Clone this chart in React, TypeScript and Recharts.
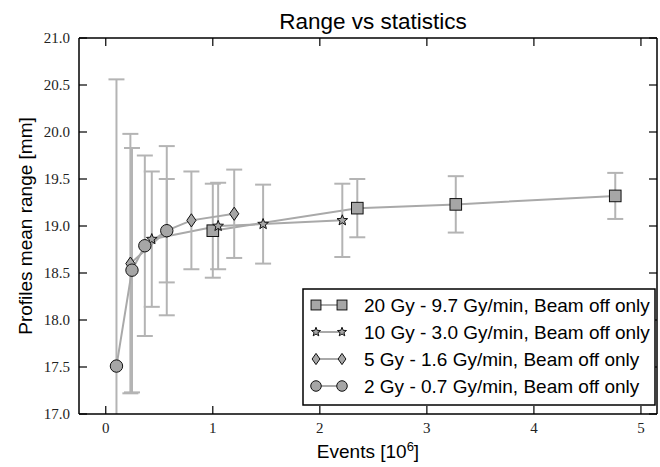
import React from 'react';
import { LineChart, Line, XAxis, YAxis, ErrorBar, Legend } from 'recharts';

// values
const sqX = [1.0, 2.35, 3.27, 4.76];
const sqY = [18.95, 19.19, 19.23, 19.32];
const sqErr = [0.5, 0.31, 0.3, 0.245];

const starX = [0.43, 1.05, 1.47, 2.21];
const starY = [18.86, 19.0, 19.02, 19.06];
const starErr = [0.72, 0.46, 0.42, 0.39];

const diaX = [0.23, 0.57, 0.8, 1.2];
const diaY = [18.6, 18.95, 19.06, 19.13];
const diaErr = [1.38, 0.55, 0.52, 0.47];

const circX = [0.1, 0.245, 0.365, 0.57];
const circY = [17.51, 18.53, 18.79, 18.95];
const circErr = [3.05, 1.3, 0.96, 0.9];

const xTicks = [0, 1, 2, 3, 4, 5];
const yTicks = [17, 17.5, 18, 18.5, 19, 19.5, 20, 20.5, 21];

const labels = [
  '20 Gy - 9.7 Gy/min, Beam off only',
  '10 Gy - 3.0 Gy/min, Beam off only',
  '5 Gy - 1.6 Gy/min, Beam off only',
  '2 Gy - 0.7 Gy/min, Beam off only',
];

type Kind = 'square' | 'star' | 'diamond' | 'circle';

const toRows = (xs: number[], ys: number[], es: number[]) =>
  xs.map((x, i) => ({ x, y: ys[i], err: es[i] }));

const series: { kind: Kind; name: string; data: { x: number; y: number; err: number }[] }[] = [
  { kind: 'square', name: labels[0], data: toRows(sqX, sqY, sqErr) },
  { kind: 'star', name: labels[1], data: toRows(starX, starY, starErr) },
  { kind: 'diamond', name: labels[2], data: toRows(diaX, diaY, diaErr) },
  { kind: 'circle', name: labels[3], data: toRows(circX, circY, circErr) },
];

const W = 660;
const H = 467;
// plot box inside the svg
const LEFT = 79;
const TOP = 38;
const RIGHT_GAP = 3;
const BOTTOM_H = 53;

const MARK_FILL = '#a6a6a6';
const LINE_GREY = '#a9a9a9';
const ERR_GREY = '#b4b4b4';
const SANS = '"Liberation Sans", Arial, sans-serif';
const SERIF = '"Liberation Serif", "DejaVu Serif", serif';

const Marker = ({ kind, cx, cy, s = 1 }: { kind: Kind; cx: number; cy: number; s?: number }) => {
  const common = { fill: MARK_FILL, stroke: '#111', strokeWidth: 1 };
  if (kind === 'circle') return <circle cx={cx} cy={cy} r={6.2 * s} {...common} />;
  if (kind === 'square') {
    const h = 5.8 * s;
    return <rect x={cx - h} y={cy - h} width={2 * h} height={2 * h} {...common} />;
  }
  if (kind === 'diamond') {
    const w = 4.6 * s, h = 6.6 * s;
    return <polygon points={`${cx},${cy - h} ${cx + w},${cy} ${cx},${cy + h} ${cx - w},${cy}`} {...common} />;
  }
  // star
  const pts: string[] = [];
  for (let i = 0; i < 10; i++) {
    const r = i % 2 === 0 ? 5.6 * s : 2.4 * s;
    const a = -Math.PI / 2 + (i * Math.PI) / 5;
    pts.push(`${cx + r * Math.cos(a)},${cy + r * Math.sin(a)}`);
  }
  return <polygon points={pts.join(' ')} {...common} />;
};

const BottomTick = (p: any) => (
  <g>
    <line x1={p.x} x2={p.x} y1={p.y} y2={p.y - 8} stroke="#000" strokeWidth={1.2} />
    <text x={p.x} y={p.y + 19} textAnchor="middle" fontFamily={SERIF} fontSize={15} fill="#222">
      {p.payload.value}
    </text>
  </g>
);

const LeftTick = (p: any) => (
  <g>
    <line x1={p.x} x2={p.x + 8} y1={p.y} y2={p.y} stroke="#000" strokeWidth={1.2} />
    <text x={p.x - 9} y={p.y + 5} textAnchor="end" fontFamily={SERIF} fontSize={15} fill="#222">
      {Number(p.payload.value).toFixed(1)}
    </text>
  </g>
);

const TopTick = (p: any) => (
  <line x1={p.x} x2={p.x} y1={p.y} y2={p.y + 8} stroke="#000" strokeWidth={1.2} />
);

const RightTick = (p: any) => (
  <line x1={p.x - 8} x2={p.x} y1={p.y} y2={p.y} stroke="#000" strokeWidth={1.2} />
);

const LegendBox = () => (
  <svg width={354} height={118} style={{ display: 'block' }}>
    <rect x={1} y={1} width={352} height={116} fill="#fff" stroke="#000" strokeWidth={1.5} />
    {series.map((s, i) => {
      const cy = 17 + i * 27;
      return (
        <g key={s.kind}>
          <line x1={14} x2={40} y1={cy} y2={cy} stroke={LINE_GREY} strokeWidth={2} />
          <Marker kind={s.kind} cx={14} cy={cy} s={0.85} />
          <Marker kind={s.kind} cx={40} cy={cy} s={0.85} />
          <text x={62} y={cy + 7} fontFamily={SANS} fontSize={19} fill="#000">
            {s.name}
          </text>
        </g>
      );
    })}
  </svg>
);

export default function App() {
  return (
    <div style={{ position: 'absolute', left: 0, top: 0, background: '#fff' }}>
      <LineChart width={W} height={H} margin={{ top: TOP - 1, right: RIGHT_GAP - 1, bottom: 0, left: 0 }}>
        <defs>
          <clipPath id="plot-box">
            <rect x={LEFT} y={TOP} width={W - LEFT - RIGHT_GAP} height={H - TOP - BOTTOM_H} />
          </clipPath>
        </defs>
        <XAxis
          dataKey="x"
          type="number"
          domain={[-0.25, 5.15]}
          ticks={xTicks}
          allowDataOverflow
          height={BOTTOM_H}
          tickSize={0}
          tickMargin={0}
          tick={BottomTick}
          axisLine={{ stroke: '#000', strokeWidth: 1.5 }}
          tickLine={false}
          label={(p: any) => (
            <text
              x={p.viewBox.x + p.viewBox.width / 2}
              y={p.viewBox.y + 44}
              textAnchor="middle"
              fontFamily={SANS}
              fontSize={19}
            >
              Events [10<tspan dy={-7} fontSize={13}>6</tspan>
              <tspan dy={7}>]</tspan>
            </text>
          )}
        />
        {/* top and right axes only draw the closed frame with inward ticks */}
        <XAxis
          xAxisId="top"
          dataKey="x"
          orientation="top"
          type="number"
          domain={[-0.25, 5.15]}
          ticks={xTicks}
          allowDataOverflow
          height={1}
          tickSize={0}
          tickMargin={0}
          tick={TopTick}
          axisLine={{ stroke: '#000', strokeWidth: 1.5 }}
          tickLine={false}
          label={(p: any) => (
            <text
              x={p.viewBox.x + p.viewBox.width / 2 + 5}
              y={TOP - 9}
              textAnchor="middle"
              fontFamily={SANS}
              fontSize={22.5}
            >
              Range vs statistics
            </text>
          )}
        />
        <YAxis
          type="number"
          domain={[17, 21]}
          ticks={yTicks}
          allowDataOverflow
          width={LEFT}
          tickSize={0}
          tickMargin={0}
          tick={LeftTick}
          axisLine={{ stroke: '#000', strokeWidth: 1.5 }}
          tickLine={false}
          label={(p: any) => {
            const cx = 25;
            const cy = p.viewBox.y + p.viewBox.height / 2;
            return (
              <text
                x={cx}
                y={cy}
                transform={`rotate(-90, ${cx}, ${cy})`}
                textAnchor="middle"
                dominantBaseline="central"
                fontFamily={SANS}
                fontSize={19}
              >
                Profiles mean range [mm]
              </text>
            );
          }}
        />
        <YAxis
          yAxisId="right"
          orientation="right"
          type="number"
          domain={[17, 21]}
          ticks={yTicks}
          allowDataOverflow
          width={1}
          tickSize={0}
          tickMargin={0}
          tick={RightTick}
          axisLine={{ stroke: '#000', strokeWidth: 1.5 }}
          tickLine={false}
        />
        <Line
          xAxisId="top"
          yAxisId="right"
          data={series[0].data}
          dataKey="y"
          stroke="none"
          dot={false}
          activeDot={false}
          legendType="none"
          isAnimationActive={false}
        />
        {series.map((s) => (
          <Line
            key={s.kind}
            data={s.data}
            dataKey="y"
            name={s.name}
            stroke={LINE_GREY}
            strokeWidth={2}
            isAnimationActive={false}
            activeDot={false}
            dot={(p: any) => <Marker key={`${s.kind}-${p.index}`} kind={s.kind} cx={p.cx} cy={p.cy} />}
          >
            <ErrorBar
              dataKey="err"
              direction="y"
              width={8}
              stroke={ERR_GREY}
              strokeWidth={2}
              clipPath="url(#plot-box)"
            />
          </Line>
        ))}
        <Legend
          layout="vertical"
          align="center"
          verticalAlign="middle"
          content={() => <LegendBox />}
          wrapperStyle={{ left: 302, top: 288, width: 354, height: 118 }}
        />
      </LineChart>
    </div>
  );
}
